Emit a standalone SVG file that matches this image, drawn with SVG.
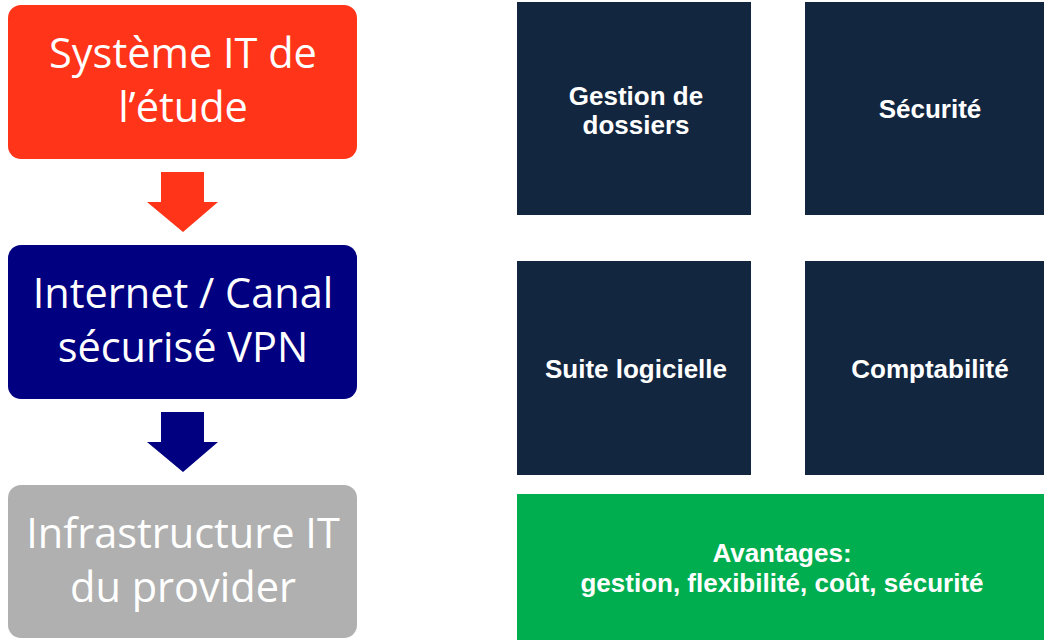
<svg xmlns="http://www.w3.org/2000/svg" width="1044" height="640" viewBox="0 0 1044 640">
<style>
.lt{font-family:"Open Sans",Lato,"Liberation Sans",sans-serif;font-size:41.5px;fill:#fff;text-anchor:middle}
.rt{font-family:"Liberation Sans",Arial,sans-serif;font-size:26px;font-weight:bold;fill:#fff;text-anchor:middle}
.dk{fill:#132640}
</style>
<rect width="1044" height="640" fill="#fff"/>
<g id="n-systeme">
<rect x="8" y="5" width="349" height="154" rx="13" fill="#FF3419"/>
<text class="lt" x="183" y="68">Système IT de</text>
<text class="lt" x="183" y="122">l’étude</text>
</g>
<g id="n-internet">
<rect x="8" y="245" width="349" height="154" rx="13" fill="#000080"/>
<text class="lt" x="183" y="308">Internet / Canal</text>
<text class="lt" x="183" y="362">sécurisé VPN</text>
</g>
<g id="n-infra">
<rect x="8" y="485" width="349" height="153" rx="13" fill="#B0B0B0"/>
<text class="lt" x="183" y="548">Infrastructure IT</text>
<text class="lt" x="183" y="602">du provider</text>
</g>
<g id="connectors">
<polygon points="161,172 204,172 204,202 218,202 183,232 147,202 161,202" fill="#FF3419"/>
<polygon points="161,412 204,412 204,442 218,442 183,472 147,442 161,442" fill="#000080"/>
</g>
<g id="n-gestion">
<rect class="dk" x="517" y="2" width="234" height="213"/>
<text class="rt" x="636" y="105">Gestion de</text>
<text class="rt" x="636" y="134">dossiers</text>
</g>
<g id="n-securite">
<rect class="dk" x="805" y="2" width="251" height="213"/>
<text class="rt" x="930" y="118">Sécurité</text>
</g>
<g id="n-suite">
<rect class="dk" x="517" y="261" width="234" height="214"/>
<text class="rt" x="636" y="378">Suite logicielle</text>
</g>
<g id="n-compta">
<rect class="dk" x="805" y="261" width="251" height="214"/>
<text class="rt" x="930" y="378">Comptabilité</text>
</g>
<g id="n-avantages">
<rect x="517" y="494" width="540" height="146" fill="#00AE50"/>
<text class="rt" x="782" y="562">Avantages:</text>
<text class="rt" x="782" y="592">gestion, flexibilité, coût, sécurité</text>
</g>
</svg>
